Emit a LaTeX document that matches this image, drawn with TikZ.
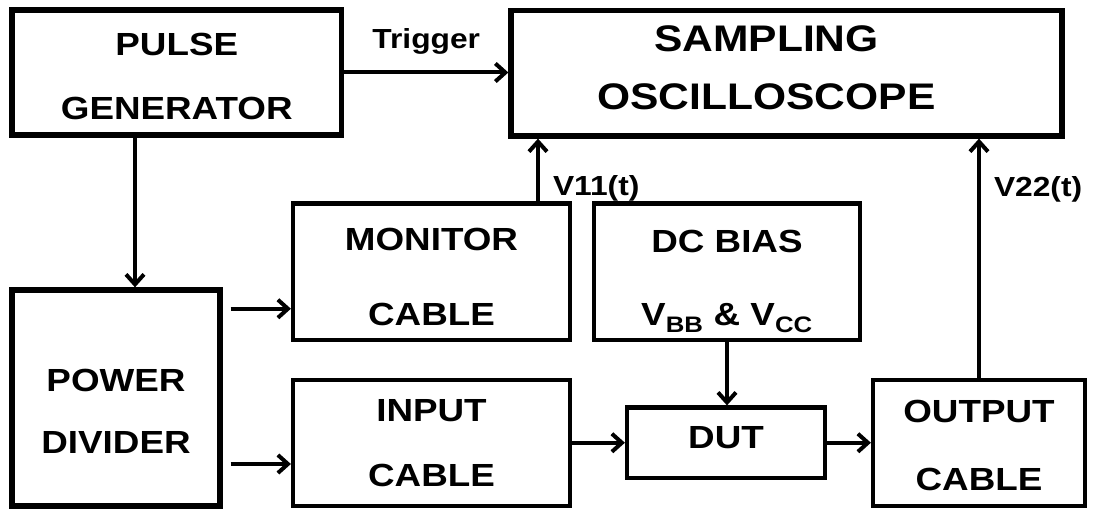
\documentclass[tikz,border=0pt]{standalone}
\usepackage{fontspec}
\usetikzlibrary{arrows.meta,positioning}
\newfontfamily\arialfam[FakeStretch=1.15]{Liberation Sans}
\newcommand\boxfont{\arialfam\bfseries\fontsize{32bp}{32bp}\selectfont}
\newcommand\scopefont{\arialfam\bfseries\fontsize{37bp}{37bp}\selectfont}
\newcommand\lblfont{\arialfam\bfseries\fontsize{27.6bp}{27.6bp}\selectfont}

\tikzset{
  blk/.style={draw, line width=4.2bp, inner sep=0pt},
  thickblk/.style={blk, line width=5.3bp},
  txt/.style={inner sep=0pt, align=center, font=\boxfont},
  arr/.style={line width=4bp, -{Straight Barb[length=10bp,width=18bp]}},
  lbl/.style={font=\lblfont, inner sep=0pt},
}

\begin{document}
\begin{tikzpicture}[x=1bp, y=-1bp]
  \useasboundingbox (0,0) rectangle (1099,512);
  % blocs
  \node[thickblk, minimum width=329.5bp, minimum height=125bp] (pg) at (176.75,72.5) {};
  \node[thickblk, minimum width=551bp, minimum height=125.5bp] (osc) at (786.5,73.25) {};
  \node[blk, minimum width=277bp, minimum height=136.5bp] (mc) at (431.5,271.75) {};
  \node[blk, minimum width=266bp, minimum height=136.5bp] (dc) at (727,271.75) {};
  \node[thickblk, minimum width=208bp, minimum height=216bp] (pd) at (116,398) {};
  \node[blk, minimum width=277bp, minimum height=126bp] (ic) at (431.5,443) {};
  \node[blk, minimum width=198bp, minimum height=70.5bp] (dut) at (726,442.75) {};
  \node[blk, minimum width=212bp, minimum height=126bp] (out) at (979,443) {};
  % textes des blocs
  \node[txt, yshift=-4bp] (pgtxt) at (pg) {PULSE\\[32bp]GENERATOR};
  \node[txt, xshift=-20bp, yshift=5bp, font=\scopefont] (osctxt) at (osc) {SAMPLING\\[21bp]OSCILLOSCOPE};
  \node[txt, yshift=-5bp] (mctxt) at (mc) {MONITOR\\[43bp]CABLE};
  \node[txt, yshift=-10bp] (dctxt) at (dc) {DC BIAS\\[41bp]V\textsubscript{BB} \& V\textsubscript{CC}};
  \node[txt, yshift=-13bp] (pdtxt) at (pd) {POWER\\[30bp]DIVIDER};
  \node[txt] (ictxt) at (ic) {INPUT\\[33bp]CABLE};
  \node[txt, yshift=5bp] (duttxt) at (dut) {DUT};
  \node[txt, yshift=-2bp] (outtxt) at (out) {OUTPUT\\[36bp]CABLE};
  % points d'entree
  \coordinate (pdin) at ([xshift=19bp]pd.north);
  \coordinate (mcin) at ([yshift=-37bp]mc.west);
  \coordinate (icin) at ([yshift=-21bp]ic.west);
  \coordinate (v11a) at ([xshift=106.5bp]mc.north);
  % liaisons
  \draw[arr] (pg.east) -- (osc.west |- pg.east) node[lbl, midway, above=16bp] (trig) {Trigger};
  \draw[arr] (pg.south -| pdin) -- (pdin);
  \draw[arr, shorten <=8bp] (pd.east |- mcin) -- (mcin);
  \draw[arr, shorten <=8bp] (pd.east |- icin) -- (icin);
  \draw[arr] (v11a) -- (osc.south -| v11a) node[lbl, pos=0.21, right=13bp] (v11) {V11(t)};
  \draw[arr] (out.north) -- (osc.south -| out.north) node[lbl, pos=0.79, right=13bp] (v22) {V22(t)};
  \draw[arr] (dc.south) -- (dut.north -| dc.south);
  \draw[arr] (ic.east |- dut) -- (dut.west);
  \draw[arr] (dut.east) -- (out.west |- dut.east);
\end{tikzpicture}
\end{document}
